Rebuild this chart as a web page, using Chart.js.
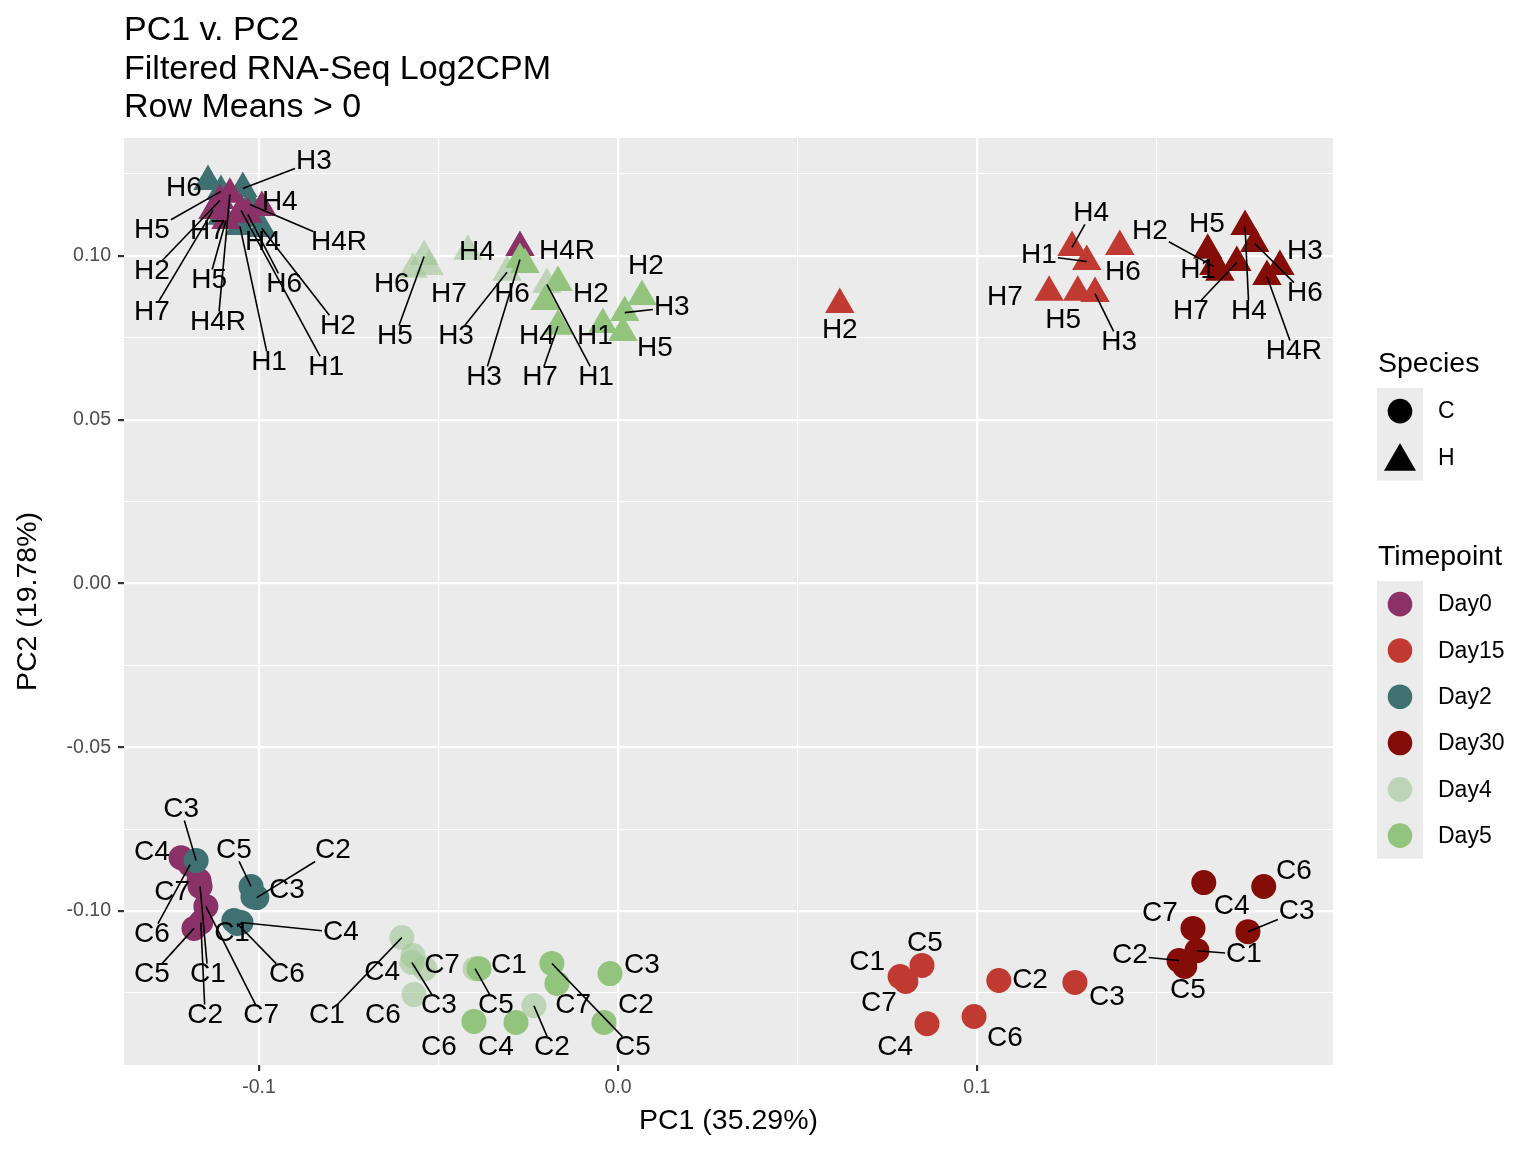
<!DOCTYPE html>
<html>
<head>
<meta charset="utf-8">
<title>PC1 v. PC2</title>
<script src="https://cdn.jsdelivr.net/npm/chart.js@4.4.1/dist/chart.umd.min.js"></script>
<style>
  html, body { margin: 0; padding: 0; background: #fff; }
  canvas { display: block; }
</style>
</head>
<body>
<canvas id="pcaChart" width="1536" height="1152"></canvas>
<script>
// Legend entries
var timepoints = ['Day0', 'Day15', 'Day2', 'Day30', 'Day4', 'Day5'];
var timepointColors = ['#8A3167', '#C13A31', '#3F7172', '#850D07', 'rgba(158,198,147,0.6)', '#93C47D'];
var species = ['C', 'H'];

// Axis ticks
var xTickValues = [-0.1, 0.0, 0.1];
var xTickLabels = ['-0.1', '0.0', '0.1'];
var xMinorValues = [-0.05, 0.05, 0.15];
var yTickValues = [-0.10, -0.05, 0.00, 0.05, 0.10];
var yTickLabels = ['-0.10', '-0.05', '0.00', '0.05', '0.10'];
var yMinorValues = [-0.125, -0.075, -0.025, 0.025, 0.075, 0.125];

// PCA scores: [sample, PC1, PC2]
var day0C = [['C4', -0.1217, -0.0837], ['C7', -0.1167, -0.0907], ['C6', -0.1192, -0.0858], ['C5', -0.1181, -0.1053],
             ['C1', -0.1164, -0.0925], ['C2', -0.1162, -0.1035], ['C7', -0.1148, -0.0986]];
var day2C = [['C3', -0.1175, -0.0846], ['C5', -0.1022, -0.0925], ['C2', -0.1006, -0.0959], ['C3', -0.1017, -0.0956],
             ['C1', -0.1070, -0.1029], ['C4', -0.1050, -0.1035], ['C6', -0.1061, -0.1038]];
var day2H = [['H6', -0.1142, 0.1227], ['H5', -0.1106, 0.1197], ['H3', -0.1045, 0.1206], ['H7', -0.1103, 0.1121],
             ['H1', -0.1053, 0.1090], ['H2', -0.0992, 0.1084], ['H4', -0.1019, 0.1115], ['H4R', -0.1025, 0.1157]];
var day0H = [['H2', -0.1109, 0.1169], ['H7', -0.1128, 0.1139], ['H5', -0.1092, 0.1108], ['H4R', -0.1081, 0.1188],
             ['H1', -0.1050, 0.1139], ['H6', -0.1031, 0.1127], ['H4', -0.0992, 0.1148], ['H4R', -0.0273, 0.1026]];
var day4C = [['C1', -0.0602, -0.1081], ['C4', -0.0571, -0.1136], ['C3', -0.0574, -0.1157], ['C6', -0.0568, -0.1255],
             ['C7', -0.0538, -0.1176], ['C5', -0.0398, -0.1176], ['C2', -0.0234, -0.1289]];
var day4H = [['H6', -0.0571, 0.0959], ['H5', -0.0540, 0.0998], ['H4', -0.0418, 0.1014], ['H7', -0.0526, 0.0968],
             ['H3', -0.0309, 0.0950], ['H1', -0.0198, 0.0913]];
var day5C = [['C1', -0.0387, -0.1176], ['C3', -0.0022, -0.1191], ['C7', -0.0170, -0.1221], ['C5', -0.0184, -0.1160],
             ['C2', -0.0039, -0.1340], ['C6', -0.0401, -0.1337], ['C4', -0.0284, -0.1340]];
var day5H = [['H6', -0.0259, 0.0974], ['H3', -0.0273, 0.0989], ['H2', -0.0167, 0.0919], ['H4', -0.0203, 0.0861],
             ['H7', -0.0167, 0.0785], ['H1', -0.0042, 0.0791], ['H2', 0.0067, 0.0876], ['H3', 0.0019, 0.0827],
             ['H5', 0.0014, 0.0766]];
var day15C = [['C1', 0.0786, -0.1200], ['C7', 0.0802, -0.1215], ['C5', 0.0847, -0.1166], ['C2', 0.1061, -0.1212],
              ['C3', 0.1273, -0.1218], ['C4', 0.0861, -0.1344], ['C6', 0.0992, -0.1322]];
var day15H = [['H4', 0.1265, 0.1026], ['H1', 0.1306, 0.0983], ['H6', 0.1398, 0.1029], ['H7', 0.1201, 0.0889],
              ['H5', 0.1281, 0.0889], ['H3', 0.1329, 0.0885], ['H2', 0.0618, 0.0852]];
var day30C = [['C6', 0.1799, -0.0925], ['C4', 0.1632, -0.0913], ['C7', 0.1602, -0.1053], ['C3', 0.1755, -0.1063],
              ['C2', 0.1563, -0.1151], ['C1', 0.1613, -0.1121], ['C5', 0.1579, -0.1169]];
var day30H = [['H5', 0.1643, 0.1017], ['H4', 0.1747, 0.1090], ['H7', 0.1724, 0.0980], ['H1', 0.1677, 0.0950],
              ['H2', 0.1660, 0.0968], ['H6', 0.1774, 0.1038], ['H4R', 0.1808, 0.0937], ['H3', 0.1844, 0.0968]];

// where the repelled labels ended up (same order, PC units); false = no leader line
var day0CLab = [[-0.1298, -0.0821], [-0.1242, -0.0944], [-0.1298, -0.1072], [-0.1298, -0.1194],
                [-0.1142, -0.1194], [-0.1150, -0.1319], [-0.0994, -0.1319]];
var day2CLab = [[-0.1217, -0.0690], [-0.1070, -0.0815], [-0.0794, -0.0815], [-0.0922, -0.0937],
                [-0.1075, -0.1069], [-0.0772, -0.1066], [-0.0922, -0.1194]];
var day2HLab = [[-0.1209, 0.1206], [-0.1298, 0.1078], [-0.0847, 0.1289], [-0.1142, 0.1075],
                [-0.0972, 0.0675], [-0.0780, 0.0785], [-0.0989, 0.1041], [-0.0777, 0.1041]];
var day0HLab = [[-0.1298, 0.0953], [-0.1298, 0.0827], [-0.1139, 0.0925], [-0.1114, 0.0797],
                [-0.0813, 0.0660], [-0.0930, 0.0913], [-0.0942, 0.1163], [-0.0142, 0.1014]];
var day4CLab = [[-0.0811, -0.1319], [-0.0657, -0.1188], [-0.0499, -0.1289], [-0.0655, -0.1319],
                [-0.0490, -0.1166], [-0.0340, -0.1289], [-0.0184, -0.1417]];
var day4HLab = [[-0.0630, 0.0913], [-0.0621, 0.0754], [-0.0393, 0.1011], [-0.0471, 0.0882],
                [-0.0451, 0.0754], [-0.0061, 0.0629]];
var day5CLab = [[-0.0304, -0.1166], [0.0067, -0.1166], [-0.0125, -0.1289], [0.0042, -0.1417],
                [0.0050, -0.1289], [-0.0499, -0.1417, false], [-0.0340, -0.1417]];
var day5HLab = [[-0.0295, 0.0882], [-0.0373, 0.0629], [-0.0075, 0.0882], [-0.0226, 0.0754, false],
                [-0.0217, 0.0629], [-0.0064, 0.0754], [0.0078, 0.0968], [0.0150, 0.0843],
                [0.0103, 0.0718]];
var day15CLab = [[0.0694, -0.1157], [0.0727, -0.1282], [0.0855, -0.1099], [0.1148, -0.1212],
                 [0.1362, -0.1264], [0.0772, -0.1417], [0.1078, -0.1389]];
var day15HLab = [[0.1318, 0.1130], [0.1173, 0.1002], [0.1407, 0.0950], [0.1078, 0.0873, false],
                 [0.1240, 0.0803], [0.1396, 0.0736], [0.0618, 0.0773]];
var day30CLab = [[0.1883, -0.0879], [0.1710, -0.0986], [0.1510, -0.1008], [0.1891, -0.1002],
                 [0.1426, -0.1136], [0.1744, -0.1133], [0.1588, -0.1243]];
var day30HLab = [[0.1641, 0.1096], [0.1758, 0.0831], [0.1596, 0.0831], [0.1616, 0.0956],
                 [0.1482, 0.1075], [0.1914, 0.0885], [0.1883, 0.0708], [0.1914, 0.1014]];

// drawing order, bottom first
var groups = [
    ['Day0', 'C', day0C, day0CLab], ['Day2', 'C', day2C, day2CLab],
    ['Day2', 'H', day2H, day2HLab], ['Day0', 'H', day0H, day0HLab],
    ['Day4', 'C', day4C, day4CLab], ['Day4', 'H', day4H, day4HLab],
    ['Day5', 'C', day5C, day5CLab], ['Day5', 'H', day5H, day5HLab],
    ['Day15', 'C', day15C, day15CLab], ['Day15', 'H', day15H, day15HLab],
    ['Day30', 'C', day30C, day30CLab], ['Day30', 'H', day30H, day30HLab]
];

var FONT = "'Liberation Sans', Arial, sans-serif";
Chart.defaults.font.family = FONT;

function colorOf(tp) {
    return timepointColors[timepoints.indexOf(tp)];
}

var datasets = groups.map(function (g, i) {
    return {
        label: g[0] + ' ' + g[1],
        data: g[2].map(function (p) { return { x: p[1], y: p[2] }; }),
        pointStyle: g[1] === 'C' ? 'circle' : 'triangle',
        pointRadius: g[1] === 'C' ? 12.5 : 17,
        backgroundColor: colorOf(g[0]),
        borderWidth: 0,
        order: groups.length - i
    };
});

function isMajor(list, v) {
    return list.some(function (m) { return Math.abs(m - v) < 1e-9; });
}

// grey panel behind the grid
var panelBackground = {
    id: 'panelBackground',
    beforeDraw: function (chart) {
        var ctx = chart.ctx, a = chart.chartArea;
        ctx.save();
        ctx.fillStyle = '#fff';
        ctx.fillRect(0, 0, chart.width, chart.height);
        ctx.fillStyle = '#EBEBEB';
        ctx.fillRect(a.left, a.top, a.right - a.left, a.bottom - a.top);
        ctx.restore();
    }
};

// sample labels with leader lines
var repelLabels = {
    id: 'repelLabels',
    afterDatasetsDraw: function (chart) {
        var ctx = chart.ctx, xs = chart.scales.x, ys = chart.scales.y;
        ctx.save();
        ctx.font = '28px ' + FONT;
        var items = [];
        groups.forEach(function (g) {
            g[2].forEach(function (p, i) {
                var lab = g[3][i];
                items.push({
                    text: p[0],
                    px: xs.getPixelForValue(p[1]), py: ys.getPixelForValue(p[2]),
                    lx: xs.getPixelForValue(lab[0]), ly: ys.getPixelForValue(lab[1]),
                    seg: lab[2] !== false
                });
            });
        });
        ctx.strokeStyle = '#000';
        ctx.lineWidth = 1.6;
        items.forEach(function (it) {
            if (!it.seg) return;
            var dx = it.px - it.lx, dy = it.py - it.ly;
            var hw = ctx.measureText(it.text).width / 2 + 1, hh = 11;
            var t = Math.min(dx ? hw / Math.abs(dx) : Infinity, dy ? hh / Math.abs(dy) : Infinity);
            if (t >= 1) return;
            var len = Math.sqrt(dx * dx + dy * dy) * (1 - t);
            if (len < 24) return;
            ctx.beginPath();
            ctx.moveTo(it.lx + dx * t, it.ly + dy * t);
            ctx.lineTo(it.px, it.py);
            ctx.stroke();
        });
        ctx.fillStyle = '#000';
        ctx.textAlign = 'center';
        ctx.textBaseline = 'middle';
        items.forEach(function (it) { ctx.fillText(it.text, it.lx, it.ly); });
        ctx.restore();
    }
};

// title block and the two legends on the right
var titleAndLegend = {
    id: 'titleAndLegend',
    afterDraw: function (chart) {
        var ctx = chart.ctx;
        ctx.save();
        ctx.fillStyle = '#000';
        ctx.textAlign = 'left';
        ctx.textBaseline = 'alphabetic';
        ctx.font = '34px ' + FONT;
        ctx.fillText('PC1 v. PC2', 124, 40);
        ctx.fillText('Filtered RNA-Seq Log2CPM', 124, 79);
        ctx.fillText('Row Means > 0', 124, 117);

        var keyX = 1377, keyW = 46, keyH = 46.3, cx = 1400, textX = 1438;

        ctx.font = '28.5px ' + FONT;
        ctx.fillText('Species', 1378, 372);
        ctx.fillStyle = '#EBEBEB';
        ctx.fillRect(keyX, 388, keyW, keyH * species.length);
        ctx.font = '23px ' + FONT;
        ctx.textBaseline = 'middle';
        species.forEach(function (s, i) {
            var cy = 388 + keyH * (i + 0.5);
            ctx.fillStyle = '#000';
            ctx.beginPath();
            if (s === 'C') {
                ctx.arc(cx, cy, 12.3, 0, Math.PI * 2);
            } else {
                var r = 18.5, c = cy + 4;
                ctx.moveTo(cx, c - r);
                ctx.lineTo(cx + r * 0.866, c + r / 2);
                ctx.lineTo(cx - r * 0.866, c + r / 2);
                ctx.closePath();
            }
            ctx.fill();
            ctx.fillText(s, textX, cy + 1);
        });

        ctx.textBaseline = 'alphabetic';
        ctx.font = '28.5px ' + FONT;
        ctx.fillText('Timepoint', 1378, 565);
        ctx.fillStyle = '#EBEBEB';
        ctx.fillRect(keyX, 581, keyW, keyH * timepoints.length);
        ctx.font = '23px ' + FONT;
        ctx.textBaseline = 'middle';
        timepoints.forEach(function (tp, i) {
            var cy = 581 + keyH * (i + 0.5);
            ctx.fillStyle = timepointColors[i];
            ctx.beginPath();
            ctx.arc(cx, cy, 12.3, 0, Math.PI * 2);
            ctx.fill();
            ctx.fillStyle = '#000';
            ctx.fillText(tp, textX, cy + 1);
        });
        ctx.restore();
    }
};

var ctx = document.getElementById('pcaChart').getContext('2d');

new Chart(ctx, {
    type: 'scatter',
    data: { datasets: datasets },
    options: {
        responsive: false,
        devicePixelRatio: 1,
        animation: false,
        events: [],
        layout: { padding: { left: 0, right: 203, top: 138, bottom: 0 } },
        plugins: {
            legend: { display: false },
            title: { display: false },
            tooltip: { enabled: false }
        },
        scales: {
            x: {
                type: 'linear',
                min: -0.1376,
                max: 0.1992,
                afterBuildTicks: function (scale) {
                    scale.ticks = xTickValues.concat(xMinorValues)
                        .sort(function (a, b) { return a - b; })
                        .map(function (v) { return { value: v }; });
                },
                afterFit: function (scale) { scale.height = 87; },
                border: { display: false },
                grid: {
                    color: '#FFFFFF',
                    lineWidth: function (c) { return isMajor(xTickValues, c.tick.value) ? 2.2 : 1.1; },
                    tickLength: 6,
                    tickWidth: 2.2,
                    tickColor: function (c) { return isMajor(xTickValues, c.tick.value) ? '#333333' : 'rgba(0,0,0,0)'; }
                },
                ticks: {
                    autoSkip: false,
                    maxRotation: 0,
                    padding: 5,
                    color: '#4D4D4D',
                    font: { size: 19.5 },
                    callback: function (v) {
                        var i = xTickValues.findIndex(function (m) { return Math.abs(m - v) < 1e-9; });
                        return i >= 0 ? xTickLabels[i] : '';
                    }
                },
                title: {
                    display: true,
                    text: 'PC1 (35.29%)',
                    color: '#000',
                    font: { size: 28.5 },
                    padding: { top: 0, bottom: 14 }
                }
            },
            y: {
                type: 'linear',
                min: -0.147,
                max: 0.136,
                afterBuildTicks: function (scale) {
                    scale.ticks = yTickValues.concat(yMinorValues)
                        .sort(function (a, b) { return a - b; })
                        .map(function (v) { return { value: v }; });
                },
                afterFit: function (scale) { scale.width = 124; },
                border: { display: false },
                grid: {
                    color: '#FFFFFF',
                    lineWidth: function (c) { return isMajor(yTickValues, c.tick.value) ? 2.2 : 1.1; },
                    tickLength: 6,
                    tickWidth: 2.2,
                    tickColor: function (c) { return isMajor(yTickValues, c.tick.value) ? '#333333' : 'rgba(0,0,0,0)'; }
                },
                ticks: {
                    autoSkip: false,
                    padding: 7,
                    color: '#4D4D4D',
                    font: { size: 19.5 },
                    callback: function (v) {
                        var i = yTickValues.findIndex(function (m) { return Math.abs(m - v) < 1e-9; });
                        return i >= 0 ? yTickLabels[i] : '';
                    }
                },
                title: {
                    display: true,
                    text: 'PC2 (19.78%)',
                    color: '#000',
                    font: { size: 28.5 },
                    padding: { top: 11, bottom: 0 }
                }
            }
        }
    },
    plugins: [panelBackground, repelLabels, titleAndLegend]
});
</script>
</body>
</html>
